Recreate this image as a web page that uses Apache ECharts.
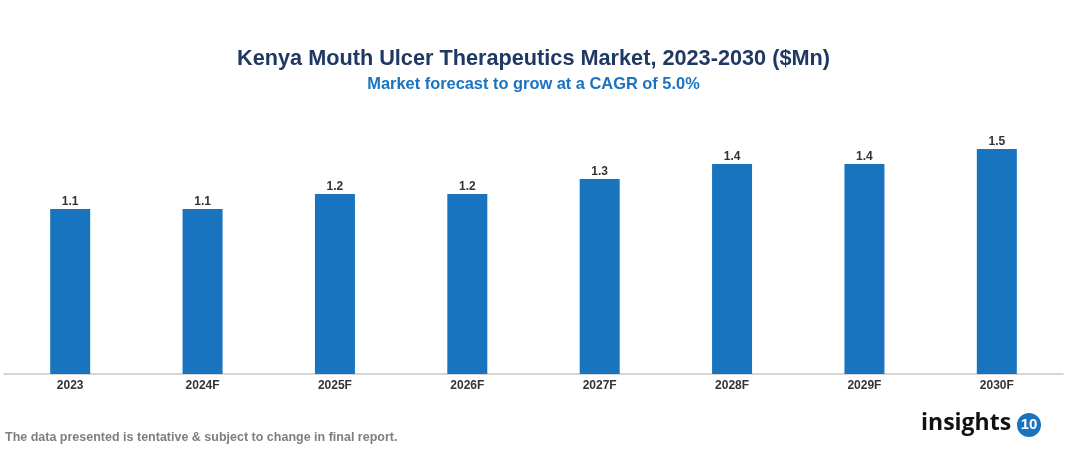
<!DOCTYPE html>
<html>
<head>
<meta charset="utf-8">
<script src="https://cdn.jsdelivr.net/npm/echarts@6/dist/echarts.min.js"></script>
<style>html,body{margin:0;padding:0;background:#fff;}#c{width:1067px;height:454px;}</style>
</head>
<body>
<div id="c"></div>
<script>
const categories = ['2023','2024F','2025F','2026F','2027F','2028F','2029F','2030F'];
const values = [1.1, 1.1, 1.2, 1.2, 1.3, 1.4, 1.4, 1.5];
const titleText = 'Kenya Mouth Ulcer Therapeutics Market, 2023-2030 ($Mn)';
const subtitleText = 'Market forecast to grow at a CAGR of 5.0%';
const footerText = 'The data presented is tentative & subject to change in final report.';

const chart = echarts.init(document.getElementById('c'));
chart.setOption({
  backgroundColor: '#ffffff',
  animation: false,
  title: [{
    text: titleText,
    left: 'center', top: 43,
    textStyle: {fontFamily: 'Liberation Sans, Arial', fontWeight: 'bold', fontSize: 21.7, color: '#1f3864'}
  }, {
    text: subtitleText,
    left: 'center', top: 71,
    textStyle: {fontFamily: 'Liberation Sans, Arial', fontWeight: 'bold', fontSize: 16.4, color: '#1a73c0'}
  }],
  grid: {left: 4, right: 4, top: 134, bottom: 80, containLabel: false},
  xAxis: {
    type: 'category', data: categories,
    axisLine: {show: true, lineStyle: {color: '#c8c8c8', width: 1.5}},
    axisTick: {show: false},
    axisLabel: {fontFamily: 'Liberation Sans, Arial', fontWeight: 'bold', fontSize: 12, color: '#333333', margin: 6}
  },
  yAxis: {type: 'value', min: 0, max: 1.6, show: false, splitLine: {show: false}},
  series: [{
    type: 'bar', data: values, barWidth: 40,
    itemStyle: {color: '#1874be'},
    label: {show: true, position: 'top', distance: 1, formatter: p => p.value.toFixed(1),
      fontFamily: 'Liberation Sans, Arial', fontWeight: 'bold', fontSize: 12, color: '#333333'}
  }],
  graphic: [{
    type: 'text', left: 5, top: 431,
    style: {text: footerText, font: 'bold 12.5px "Liberation Sans", Arial', fill: '#7f7f7f'}
  }, {
    type: 'text', left: 921, top: 412,
    style: {text: 'insights', font: 'bold 23px "Open Sans", "Liberation Sans", Arial', fill: '#111111'}
  }, {
    type: 'circle', shape: {cx: 1029, cy: 425, r: 12}, style: {fill: '#1874be'}
  }, {
    type: 'text', x: 1029, y: 425,
    style: {text: '10', font: 'bold 15px "Liberation Sans", Arial', fill: '#ffffff', align: 'center', verticalAlign: 'middle'}
  }]
});
</script>
</body>
</html>
